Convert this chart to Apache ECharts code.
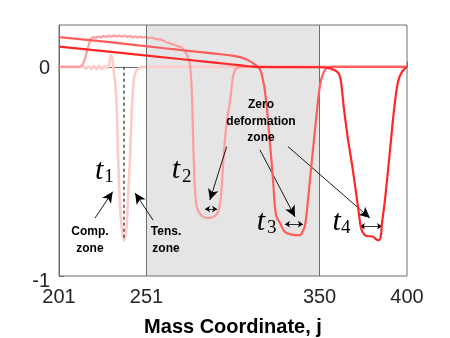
<!DOCTYPE html>
<html>
<head>
<meta charset="utf-8">
<script src="https://cdn.jsdelivr.net/npm/echarts@6/dist/echarts.min.js"></script>
<style>
html,body{margin:0;padding:0;background:#fff;}
#chart{width:450px;height:338px;}
</style>
</head>
<body>
<div id="chart"></div>
<script>
// ---- data ----
const xTicks = [201, 251, 350, 400];
const yTicks = [-1, 0];
const zoneStart = 251;
const zoneEnd = 350;

const t1 = [[201,0],[213,0],[215,0.002],[216.5,-0.009],[218,0.003],[219.5,-0.01],[221,0.004],[222.5,-0.011],[224,0.005],[225.5,-0.011],[227,0.004],[228.5,-0.007],[229.6,0.012],[230.7,0.058],[231.6,0.03],[232.3,-0.02],[233.2,-0.08],[234.0,-0.2],[234.8,-0.43],[235.8,-0.65],[236.9,-0.77],[238.2,-0.83],[239.6,-0.77],[240.6,-0.6],[241.6,-0.44],[242.6,-0.21],[243.5,-0.09],[244.5,-0.03],[246.5,-0.008],[249,0],[400,0]];

const t2 = [[201,0],[212,0],[214,0.006],[215.5,0.03],[217.2,0.08],[219,0.128],[220.5,0.142],[222,0.140],[223.5,0.145],[225,0.141],[226.5,0.148],[228,0.143],[229.5,0.149],[231,0.144],[232.5,0.150],[234,0.145],[235.5,0.149],[237,0.144],[238.5,0.149],[240,0.143],[241.5,0.148],[243,0.142],[244.5,0.146],[246,0.141],[247.5,0.145],[249,0.14],[250.5,0.143],[252,0.138],[254,0.14],[256,0.134],[258.8,0.131],[262,0.12],[266.2,0.107],[269,0.099],[271.3,0.091],[274.0,0.06],[275.9,0.011],[277.1,-0.157],[277.9,-0.397],[278.8,-0.589],[279.9,-0.675],[282.2,-0.709],[285.6,-0.723],[289.1,-0.718],[291.9,-0.694],[293.6,-0.62],[294.6,-0.5],[295.6,-0.38],[297,-0.26],[298.8,-0.165],[300.7,-0.04],[302.6,-0.005],[305.5,0],[400,0]];

const t3 = [[201,0.142],[230,0.118],[260,0.09],[290,0.063],[300,0.054],[305,0.045],[309,0.032],[313.1,0.011],[316,-0.013],[317.8,-0.069],[318.8,-0.117],[320.5,-0.253],[323.4,-0.541],[325.1,-0.709],[327.4,-0.747],[330.2,-0.79],[334.2,-0.802],[338.8,-0.805],[340.0,-0.795],[341.7,-0.757],[343.4,-0.637],[344.5,-0.541],[348.0,-0.253],[350.3,-0.085],[352.5,-0.023],[354.8,-0.003],[358.8,0],[400,0]];

const t4 = [[201,0.097],[250,0.055],[290,0.02],[305,0.007],[313,0],[350,-0.002],[353.1,-0.003],[356,-0.008],[360,-0.023],[361.7,-0.047],[362.8,-0.109],[364.0,-0.205],[366.3,-0.349],[368.6,-0.469],[371.2,-0.621],[372.6,-0.709],[373.7,-0.771],[375.4,-0.80],[377.7,-0.81],[380.0,-0.81],[382.3,-0.824],[384.0,-0.829],[385.1,-0.805],[385.7,-0.747],[387.4,-0.637],[390.3,-0.397],[392.6,-0.205],[394.9,-0.07],[397.2,-0.023],[400,0]];

const seriesNames = ['t1','t2','t3','t4'];
const seriesColors = ['#FFCACA','#FF9C9C','#FF5C5C','#FF2626'];

// annotation positions (data coordinates)
const dashedLine = [[238.2, 0], [238.2, -0.82]];
const arrows = [
  [[221.6,-0.723],[231.7,-0.597]],
  [[254.8,-0.733],[244.5,-0.603]],
  [[296.9,-0.381],[287.3,-0.637]],
  [[315.9,-0.397],[335.95,-0.717]],
  [[331.9,-0.381],[378.8,-0.723]]
];
const doubleArrows = [
  [[284.5,-0.68],[291.4,-0.68]],
  [[330.2,-0.752],[340.5,-0.752]],
  [[373.1,-0.762],[385.7,-0.762]]
];
const tLabels = [
  {sub:'1', t:[223.9,-0.498], s:[229.6,-0.529]},
  {sub:'2', t:[267.9,-0.493], s:[274.0,-0.529]},
  {sub:'3', t:[316.5,-0.741], s:[322.6,-0.769]},
  {sub:'4', t:[359.8,-0.741], s:[365.0,-0.769]}
];
const textLabels = [
  {text:'Comp.\nzone', pos:[218.7,-0.829]},
  {text:'Tens.\nzone', pos:[262.2,-0.829]},
  {text:'Zero\ndeformation\nzone', pos:[316.5,-0.26]}
];

// ---- chart ----
const chart = echarts.init(document.getElementById('chart'), null, {renderer:'canvas'});
const axisColor = '#6e6e6e';
const fontSans = 'Liberation Sans, Arial, sans-serif';

const lineSeries = [t1,t2,t3,t4].map((d,i)=>({
  name: seriesNames[i],
  type: 'line',
  data: d,
  showSymbol: false,
  smooth: 0.35,
  z: 3 + i,
  lineStyle: {color: seriesColors[i], width: i===0 ? 2.6 : 2.2},
  itemStyle: {color: seriesColors[i]},
  silent: true
}));

const helper = {
  type: 'line',
  data: [],
  z: 1,
  silent: true,
  markArea: {
    silent: true,
    itemStyle: {color: '#E5E5E5'},
    data: [[{xAxis: zoneStart}, {xAxis: zoneEnd}]]
  },
  markLine: {
    silent: true,
    symbol: 'none',
    label: {show: false},
    lineStyle: {color: axisColor, width: 1, type: 'solid'},
    data: [{xAxis: zoneStart}, {xAxis: zoneEnd}]
  }
};

const annot = {
  type: 'line',
  data: [],
  z: 10,
  silent: true,
  markLine: {
    silent: true,
    animation: false,
    label: {show: false},
    emphasis: {disabled: true},
    data: [
      [{coord: dashedLine[0], symbol: 'none', lineStyle:{color:'#555', width:1.6, type:[3,3]}},
       {coord: dashedLine[1], symbol: 'none'}]
    ].concat(arrows.map(a => [
      {coord: a[0], symbol: 'none', lineStyle:{color:'#000', width:0.9, type:'solid'}},
      {coord: a[1], symbol: 'arrow', symbolSize: [8, 11]}
    ])).concat(doubleArrows.map(a => [
      {coord: a[0], symbol: 'arrow', symbolSize: [5, 5], lineStyle:{color:'#000', width:0.8, type:'solid'}},
      {coord: a[1], symbol: 'arrow', symbolSize: [5, 5]}
    ]))
  }
};

chart.setOption({
  animation: false,
  grid: {left: 59, right: 43, top: 25, bottom: 62, show: true, z: 20,
         outerBoundsMode: 'none', containLabel: false,
         borderColor: axisColor, borderWidth: 1, backgroundColor: 'transparent'},
  xAxis: {
    type: 'value', min: 201, max: 400,
    axisLine: {show: true, lineStyle: {color: axisColor}},
    axisTick: {show: true, inside: true, length: 5, customValues: xTicks, lineStyle:{color: axisColor}},
    axisLabel: {customValues: xTicks, fontSize: 20, color: '#262626', fontFamily: fontSans, margin: 11},
    splitLine: {show: false},
    name: 'Mass Coordinate, j',
    nameLocation: 'middle',
    nameGap: 41,
    nameTextStyle: {fontSize: 20, fontWeight: 'bold', color: '#000', fontFamily: fontSans}
  },
  yAxis: {
    type: 'value', min: -1, max: 0.2,
    axisLine: {show: true, lineStyle: {color: axisColor}},
    axisTick: {show: true, inside: true, length: 5, customValues: yTicks, lineStyle:{color: axisColor}},
    axisLabel: {
      customValues: yTicks, fontSize: 20, color: '#262626', fontFamily: fontSans, margin: 9,
      formatter: v => v === -1 ? '{low|-1}' : '{zero|0}',
      rich: {
        low: {fontSize: 20, color: '#262626', fontFamily: fontSans, padding: [10, 0, 0, 0]},
        zero: {fontSize: 20, color: '#262626', fontFamily: fontSans, padding: [4, 0, 0, 0]}
      }
    },
    splitLine: {show: false}
  },
  series: [helper].concat(lineSeries).concat([annot])
});

// text annotations placed at data coordinates
const g = [];
tLabels.forEach(l => {
  const p = chart.convertToPixel({gridIndex: 0}, l.t);
  const q = chart.convertToPixel({gridIndex: 0}, l.s);
  g.push({type:'text', z: 30, x: p[0], y: p[1], style:{text:'t', fill:'#000', font:'italic 30px "Liberation Serif", serif', textAlign:'center', textVerticalAlign:'middle'}});
  g.push({type:'text', z: 30, x: q[0], y: q[1], style:{text:l.sub, fill:'#000', font:'19px "Liberation Serif", serif', textAlign:'center', textVerticalAlign:'middle'}});
});
textLabels.forEach(l => {
  const p = chart.convertToPixel({gridIndex: 0}, l.pos);
  g.push({type:'text', z: 30, x: p[0], y: p[1], style:{text:l.text, fill:'#000', font:'bold 12px "Liberation Sans", Arial, sans-serif', textAlign:'center', textVerticalAlign:'middle', lineHeight:16.5}});
});
chart.setOption({graphic: g});
</script>
</body>
</html>
